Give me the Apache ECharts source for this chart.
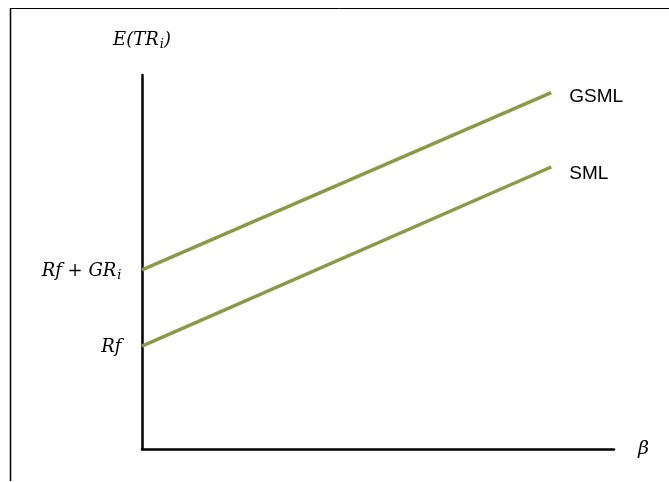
<!DOCTYPE html>
<html>
<head>
<meta charset="utf-8">
<script src="https://cdn.jsdelivr.net/npm/echarts@6/dist/echarts.min.js"></script>
<style>html,body{margin:0;padding:0;background:#fff;}#c{width:669px;height:482px;}</style>
</head>
<body>
<div id="c"></div>
<script>
// Data
var betaRange = [0, 8.67];
var smlValues = [2.75, 7.54];
var gsmlValues = [4.79, 9.53];
var seriesNames = ['GSML', 'SML'];
var startLabels = ['{m|Rf + GR}{s|i}', '{m|Rf}'];
var yAxisName = '{m|E(TR}{s|i}{m|)}';
var xAxisName = 'β';

var mathFont = 'DejaVu Serif';
var lineColor = '#8c9a48';
var rich = {
  m: {fontFamily: mathFont, fontStyle: 'italic', fontSize: 18, color: '#000'},
  s: {fontFamily: mathFont, fontStyle: 'italic', fontSize: 13, color: '#000', padding: [9, 0, 0, 1]}
};

function mkSeries(name, vals, startLabel, endOffset) {
  return {
    name: name,
    type: 'line',
    symbol: 'circle',
    symbolSize: 1,
    showSymbol: true,
    silent: true,
    itemStyle: {color: 'rgba(0,0,0,0)'},
    lineStyle: {color: lineColor, width: 3.5},
    data: [
      {value: [betaRange[0], vals[0]], label: {show: true, position: 'left', distance: 20, offset: [0, 1], formatter: startLabel, rich: rich}},
      [betaRange[1], vals[1]]
    ],
    endLabel: {
      show: true,
      formatter: name,
      distance: 18,
      offset: [0, endOffset],
      fontFamily: 'Liberation Sans',
      fontSize: 19,
      color: '#000'
    }
  };
}

var chart = echarts.init(document.getElementById('c'), null, {renderer: 'canvas'});
chart.setOption({
  animation: false,
  backgroundColor: '#fff',
  grid: {left: 142, right: 55, top: 75, bottom: 33, containLabel: false},
  xAxis: {
    type: 'value', min: 0, max: 10,
    name: xAxisName, nameLocation: 'end', nameGap: 24,
    nameTextStyle: {fontFamily: mathFont, fontStyle: 'italic', fontSize: 19, color: '#000', verticalAlign: 'middle', padding: [0, 0, 6, 0]},
    axisLine: {show: true, onZero: false, lineStyle: {color: '#000', width: 2.5}},
    axisTick: {show: false}, axisLabel: {show: false}, splitLine: {show: false}
  },
  yAxis: {
    type: 'value', min: 0, max: 10,
    name: yAxisName, nameLocation: 'end', nameGap: 24,
    nameTextStyle: {rich: rich, align: 'center'},
    axisLine: {show: true, onZero: false, lineStyle: {color: '#000', width: 2.5}},
    axisTick: {show: false}, axisLabel: {show: false}, splitLine: {show: false}
  },
  graphic: [
    {type: 'line', shape: {x1: 10, y1: 8.5, x2: 669, y2: 8.5}, style: {stroke: '#000', lineWidth: 1}, silent: true},
    {type: 'line', shape: {x1: 10.5, y1: 8, x2: 10.5, y2: 481}, style: {stroke: '#000', lineWidth: 1.5}, silent: true}
  ],
  series: [
    mkSeries(seriesNames[0], gsmlValues, startLabels[0], 4),
    mkSeries(seriesNames[1], smlValues, startLabels[1], 7)
  ]
});
</script>
</body>
</html>
